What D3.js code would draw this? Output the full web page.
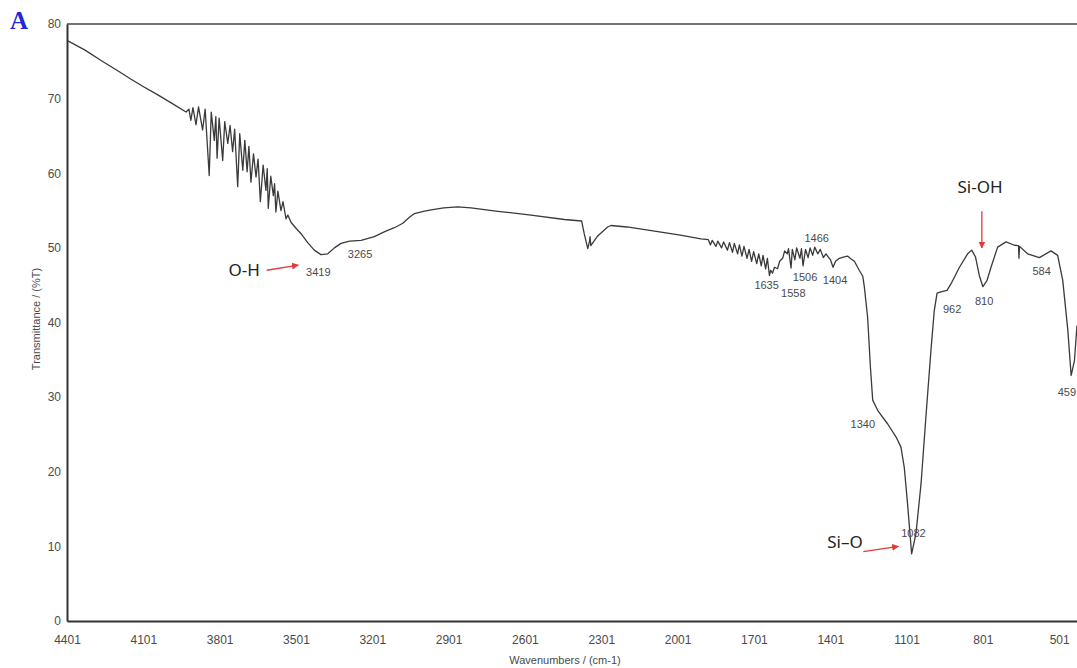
<!DOCTYPE html>
<html>
<head>
<meta charset="utf-8">
<script src="https://cdn.jsdelivr.net/npm/d3@7"></script>
<style>
  body { margin: 0; background: #fff; }
  svg { display: block; }
</style>
</head>
<body>
<div id="chart"></div>
<script>
// FTIR spectrum: [wavenumber, %T]
const spectrum = [
  [4401, 77.8], [4330, 76.5], [4267, 75.1], [4200, 73.7], [4149, 72.6],
  [4100, 71.6], [4044, 70.5], [3990, 69.4], [3933, 68.2],
  [3922, 68.6], [3914, 67.1], [3906, 68.8], [3894, 66.5], [3884, 68.9],
  [3868, 65.8], [3858, 68.6], [3842, 59.7], [3834, 68.2], [3822, 64.4],
  [3816, 67.6], [3811, 62.0], [3803, 67.4], [3789, 61.7], [3781, 66.9],
  [3769, 64.0], [3760, 66.4], [3750, 62.9], [3742, 65.9], [3730, 58.2],
  [3722, 65.3], [3710, 60.4], [3702, 64.4], [3693, 60.2], [3686, 63.6],
  [3678, 58.8], [3668, 62.6], [3658, 59.5], [3650, 61.9], [3641, 56.2],
  [3630, 61.1], [3619, 57.7], [3614, 60.6], [3610, 55.3], [3600, 59.6],
  [3590, 57.0], [3585, 58.6], [3580, 54.8], [3572, 57.6], [3560, 55.0],
  [3552, 56.2], [3540, 53.9], [3533, 54.4], [3520, 53.4], [3500, 52.6],
  [3481, 51.9], [3455, 50.7], [3429, 49.7], [3403, 49.1], [3376, 49.2],
  [3350, 50.0], [3324, 50.6], [3290, 50.9], [3245, 51.0], [3193, 51.5],
  [3150, 52.2], [3114, 52.7], [3081, 53.3], [3055, 54.1], [3035, 54.6],
  [3000, 54.9], [2970, 55.1], [2920, 55.35], [2866, 55.5], [2813, 55.35],
  [2708, 54.9], [2577, 54.4], [2446, 53.8], [2378, 53.6],
  [2368, 51.9], [2354, 49.9], [2347, 50.9], [2345, 51.5], [2342, 50.3],
  [2315, 51.6], [2276, 52.8], [2263, 53.0], [2200, 52.8], [2066, 52.1],
  [1990, 51.7], [1909, 51.2], [1880, 51.1], [1872, 50.4], [1865, 51.0],
  [1850, 50.2], [1843, 50.9], [1828, 50.0], [1820, 50.8], [1805, 49.7],
  [1797, 50.7], [1785, 49.4], [1778, 50.6], [1765, 49.2], [1758, 50.4],
  [1748, 48.9], [1740, 50.2], [1728, 48.6], [1720, 49.8], [1710, 48.2],
  [1702, 49.5], [1690, 47.9], [1682, 49.2], [1672, 47.6], [1665, 49.0],
  [1655, 47.2], [1648, 48.6], [1640, 46.3], [1635, 47.0], [1628, 46.6],
  [1620, 47.4], [1608, 47.2], [1600, 48.2], [1588, 48.6], [1580, 49.6],
  [1570, 49.2], [1565, 49.9], [1555, 47.3], [1550, 49.8], [1540, 48.4],
  [1533, 50.0], [1520, 48.6], [1514, 49.9], [1508, 47.6], [1498, 49.8],
  [1488, 48.7], [1480, 50.0], [1470, 49.0], [1462, 50.1], [1450, 49.2],
  [1440, 49.8], [1428, 48.7], [1418, 49.2], [1400, 48.4], [1390, 47.4],
  [1380, 48.2], [1365, 48.6], [1346, 48.8], [1333, 48.9], [1319, 48.5],
  [1306, 48.2], [1287, 47.0], [1273, 46.2], [1267, 44.8], [1254, 40.7],
  [1243, 34.0], [1234, 29.6], [1214, 28.2], [1175, 26.4], [1142, 24.65],
  [1123, 23.3], [1110, 20.6], [1097, 15.7], [1081, 9.0], [1064, 11.7],
  [1044, 18.4], [1025, 27.3], [1005, 36.3], [992, 41.6], [981, 43.95],
  [966, 44.1], [942, 44.3], [926, 45.2], [893, 47.4], [861, 49.2],
  [845, 49.7], [830, 48.8], [815, 46.3], [801, 44.8], [785, 45.6],
  [769, 47.4], [743, 50.1], [710, 50.8], [677, 50.35], [661, 50.3],
  [659, 48.6], [657, 50.2], [625, 49.2], [579, 48.7], [533, 49.6],
  [507, 49.0], [487, 45.65], [467, 38.95], [454, 32.9], [441, 34.9],
  [431, 39.6]
];

const xTicks = [4401, 4101, 3801, 3501, 3201, 2901, 2601, 2301, 2001, 1701, 1401, 1101, 801, 501];
const yTicks = [0, 10, 20, 30, 40, 50, 60, 70, 80];

// peak numbers written next to the curve: [text, wavenumber, %T]
const peakLabels = [
  ["3419", 3413, 46.7], ["3265", 3249, 49.2], ["1635", 1651, 45.0],
  ["1558", 1546, 43.9], ["1506", 1500, 46.1], ["1404", 1382, 45.7],
  ["1466", 1454, 51.3], ["1340", 1273, 26.4], ["1082", 1074, 11.8],
  ["962", 922, 41.8], ["810", 796, 42.9], ["584", 570, 46.9]
];

// group names with their red arrows: [text, w, T, arrow from w, T, to w, T]
const groupLabels = [
  ["O-H", 3705, 47.0, 3616, 47.0, 3492, 47.7],
  ["Si-OH", 812, 58.2, 805, 54.9, 805, 50.0],
  ["Si\u2013O", 1343, 10.6, 1271, 9.3, 1133, 10.0]
];

const width = 1077, height = 668;
const margin = { top: 24, right: 0, bottom: 47, left: 67 };

const svg = d3
  .select("#chart")
  .append("svg")
  .attr("width", width)
  .attr("height", height);

const x = d3.scaleLinear().domain([4401, 431]).range([margin.left, width - margin.right]);
const y = d3.scaleLinear().domain([0, 80]).range([height - margin.bottom, margin.top]);

// arrow head
svg
  .append("defs")
  .append("marker")
  .attr("id", "redhead")
  .attr("viewBox", "0 0 10 10")
  .attr("refX", 9)
  .attr("refY", 5)
  .attr("markerWidth", 7)
  .attr("markerHeight", 7)
  .attr("markerUnits", "userSpaceOnUse")
  .attr("orient", "auto")
  .append("path")
  .attr("d", "M0,0L10,5L0,10z")
  .attr("fill", "#e23a3a");

// top border
svg
  .append("line")
  .attr("x1", x(4401))
  .attr("x2", width)
  .attr("y1", y(80))
  .attr("y2", y(80))
  .attr("stroke", "#444")
  .attr("stroke-width", 1.3);

// x axis
const xAxis = svg
  .append("g")
  .attr("transform", "translate(0," + y(0) + ")")
  .call(d3.axisBottom(x).tickValues(xTicks).tickFormat(d3.format("d")).tickSize(0).tickPadding(14));
xAxis.select(".domain").attr("stroke", "#333").attr("stroke-width", 2.2);

// y axis
const yAxis = svg
  .append("g")
  .attr("transform", "translate(" + x(4401) + ",0)")
  .call(d3.axisLeft(y).tickValues(yTicks).tickSize(0).tickPadding(6));
yAxis.select(".domain").attr("stroke", "#333").attr("stroke-width", 2);

svg
  .selectAll(".tick text")
  .attr("font-family", "Liberation Sans, Arial, sans-serif")
  .attr("font-size", 12)
  .attr("fill", "#4a4a4a");

// axis titles
svg
  .append("text")
  .attr("x", 565)
  .attr("y", 664)
  .attr("text-anchor", "middle")
  .attr("font-family", "Liberation Sans, Arial, sans-serif")
  .attr("font-size", 11)
  .attr("fill", "#4a4a4a")
  .text("Wavenumbers / (cm-1)");

svg
  .append("text")
  .attr("transform", "translate(40,319) rotate(-90)")
  .attr("text-anchor", "middle")
  .attr("font-family", "Liberation Sans, Arial, sans-serif")
  .attr("font-size", 11)
  .attr("fill", "#4a4a4a")
  .text("Transmittance / (%T)");

// panel letter
svg
  .append("text")
  .attr("x", 10)
  .attr("y", 29)
  .attr("font-family", "Liberation Serif, Times New Roman, serif")
  .attr("font-weight", "bold")
  .attr("font-size", 25)
  .attr("fill", "#2424d8")
  .text("A");

// spectrum
const line = d3
  .line()
  .x((d) => x(d[0]))
  .y((d) => y(d[1]));

svg
  .append("path")
  .datum(spectrum)
  .attr("fill", "none")
  .attr("stroke", "#3a3a3a")
  .attr("stroke-width", 1.3)
  .attr("stroke-linejoin", "round")
  .attr("d", line);

// peak numbers
svg
  .selectAll(".peak")
  .data(peakLabels)
  .enter()
  .append("text")
  .attr("class", "peak")
  .attr("x", (d) => x(d[1]))
  .attr("y", (d) => y(d[2]))
  .attr("dy", "0.35em")
  .attr("text-anchor", "middle")
  .attr("font-family", "Liberation Sans, Arial, sans-serif")
  .attr("font-size", 11)
  .attr("fill", "#4a4a4a")
  .text((d) => d[0]);

// 459 sits against the right edge
svg
  .append("text")
  .attr("x", width - 1)
  .attr("y", y(30.7))
  .attr("dy", "0.35em")
  .attr("text-anchor", "end")
  .attr("font-family", "Liberation Sans, Arial, sans-serif")
  .attr("font-size", 11)
  .attr("fill", "#4a4a4a")
  .text("459");

// group names and arrows
svg
  .selectAll(".group")
  .data(groupLabels)
  .enter()
  .append("text")
  .attr("class", "group")
  .attr("x", (d) => x(d[1]))
  .attr("y", (d) => y(d[2]))
  .attr("dy", "0.36em")
  .attr("text-anchor", "middle")
  .attr("font-family", "Noto Sans, Open Sans, sans-serif")
  .attr("font-size", 17)
  .attr("fill", "#222")
  .text((d) => d[0]);

svg
  .selectAll(".arrow")
  .data(groupLabels)
  .enter()
  .append("line")
  .attr("class", "arrow")
  .attr("x1", (d) => x(d[3]))
  .attr("y1", (d) => y(d[4]))
  .attr("x2", (d) => x(d[5]))
  .attr("y2", (d) => y(d[6]))
  .attr("stroke", "#e23a3a")
  .attr("stroke-width", 1.3)
  .attr("marker-end", "url(#redhead)");
</script>
</body>
</html>
